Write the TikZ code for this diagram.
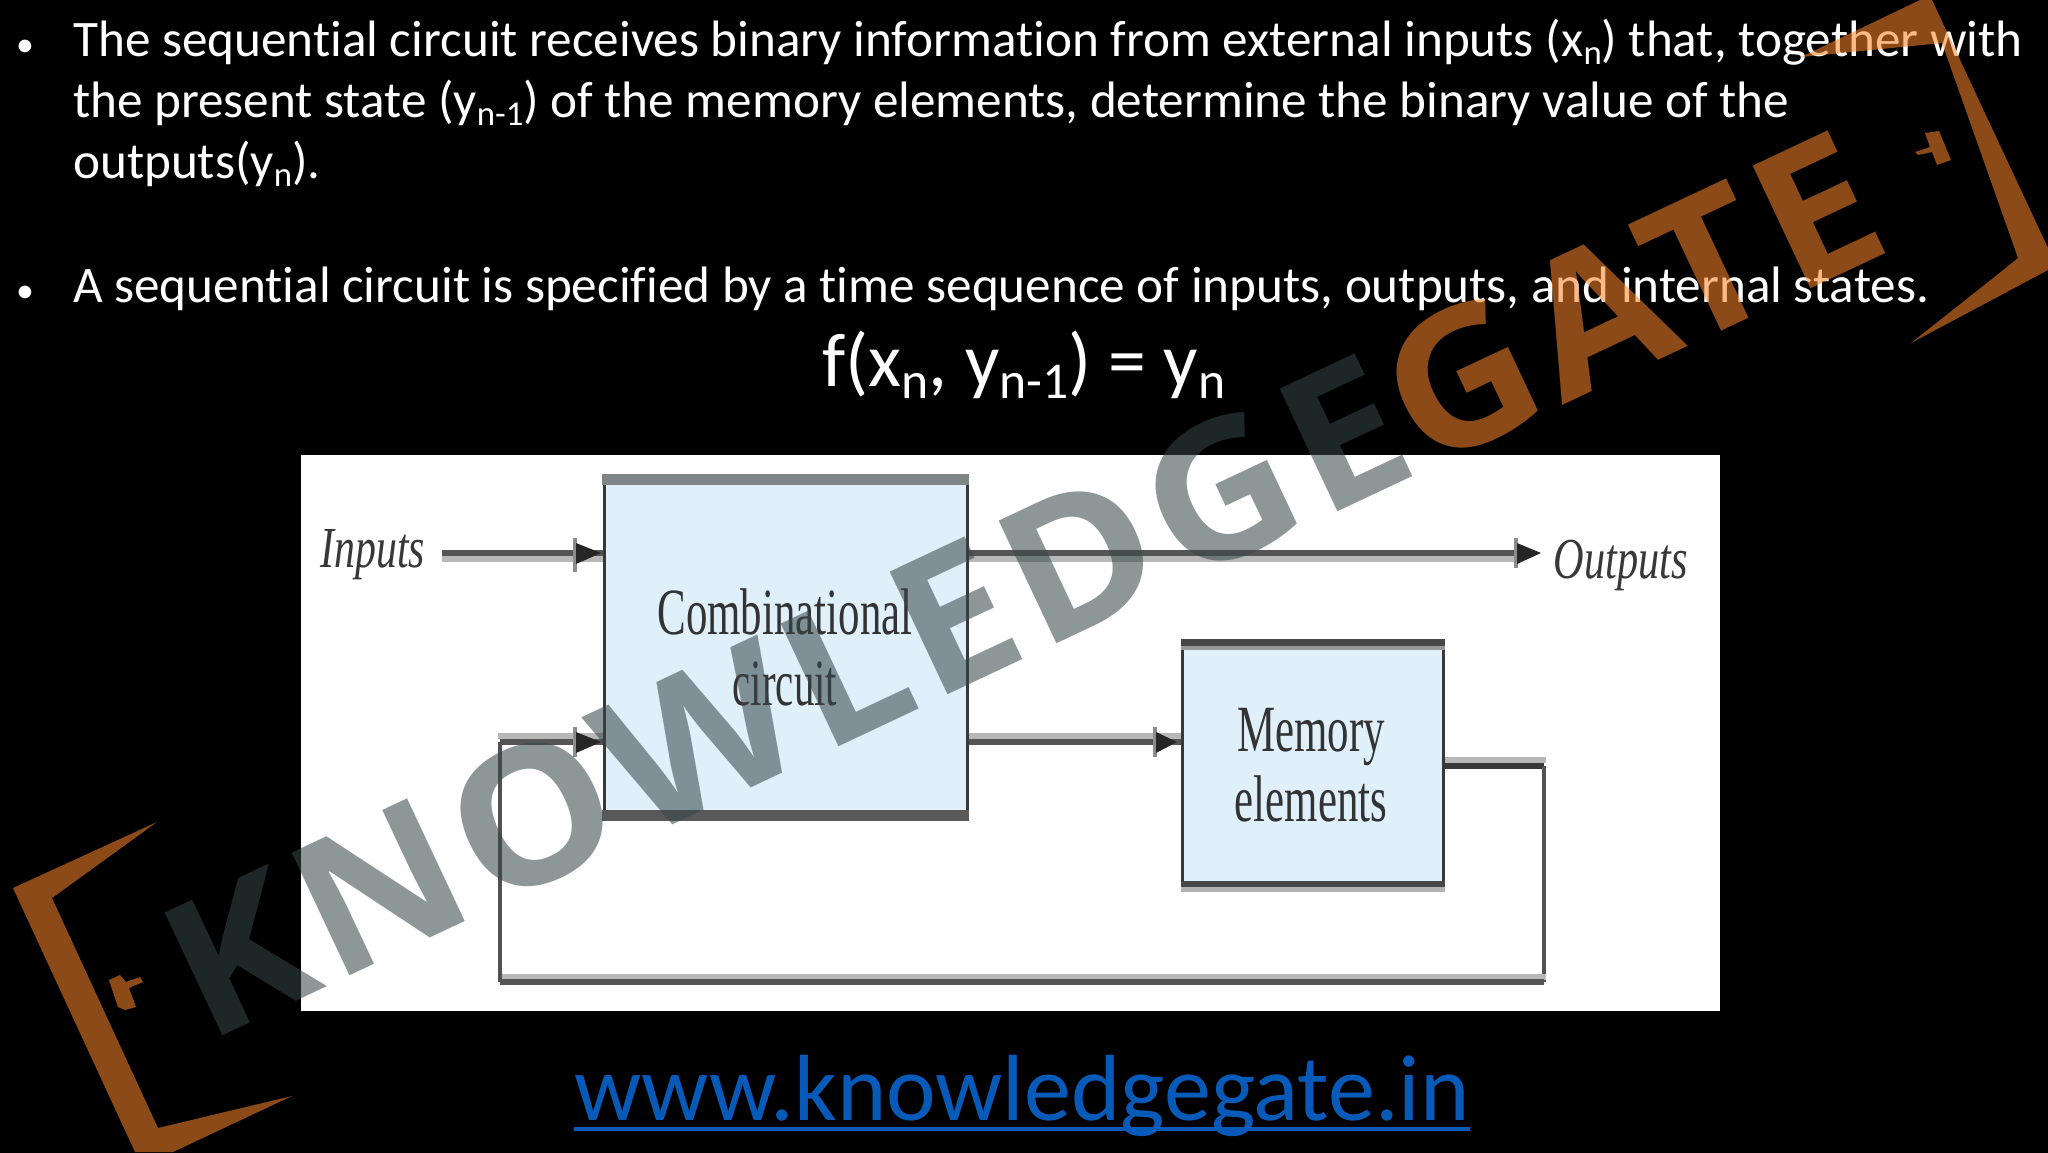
\documentclass[tikz,border=0pt]{standalone}
\usepackage{fontspec}
\setmainfont{Carlito}[Ligatures={NoCommon}]
\newfontfamily\pictfont{Liberation Serif}
\newfontfamily\wmfont{Open Sans}[FakeStretch=1.06,LetterSpace=4]
\usetikzlibrary{calc}
\definecolor{boxfill}{RGB}{223,240,251}
\definecolor{wdark}{RGB}{85,85,85}
\definecolor{wgray}{RGB}{184,184,184}
\definecolor{bandgray}{RGB}{128,133,136}
\definecolor{linkblue}{RGB}{8,90,185}
\definecolor{wmgray}{RGB}{55,70,73}
\definecolor{wmorange}{RGB}{250,132,43}
\newcommand{\subsc}[1]{\raisebox{-.17em}{\scalebox{.68}{#1}}}
\newcommand{\squeezed}[2]{\scalebox{#1}[1]{#2}}
\tikzset{
  bodyline/.style={anchor=base west,inner sep=0pt,text=white,font=\fontsize{51.2}{58}\selectfont},
  blockbox/.style={draw=black!78,line width=3pt,fill=boxfill,inner sep=0pt},
  blocktext/.style={inner sep=0pt,text=black!80,font=\pictfont\fontsize{66}{66}\selectfont},
  labeltext/.style={inner sep=0pt,text=black!78,font=\pictfont\itshape\fontsize{58}{58}\selectfont},
  wired/.style={draw=wdark,line width=6pt},
  wireg/.style={draw=wgray,line width=6pt},
  wirev/.style={draw=black!68,line width=4pt},
  tiparrow/.style={fill=black!85,draw=none},
  tipbar/.style={fill=black!45,draw=none},
  bracketpoly/.style={fill=wmorange,fill opacity=.56,draw=none},
}
\begin{document}
\begin{tikzpicture}[x=1pt,y=-1pt]
\useasboundingbox (0,0) rectangle (2048,1152);
\fill[black] (-6,-6) rectangle (2054,1158);
% text
\node[bodyline] (b1) at (16,56) {\scalebox{.7}{•}};
\node[bodyline] (l1) at (73,56) {The sequential circuit receives binary information from external inputs (x\subsc{n}) that, together with};
\node[bodyline] (l2) at (73,117) {the present state (y\subsc{n-1}) of the memory elements, determine the binary value of the};
\node[bodyline] (l3) at (73,178) {outputs(y\subsc{n}).};
\node[bodyline] (b2) at (16,302) {\scalebox{.7}{•}};
\node[bodyline] (l4) at (73,302) {A sequential circuit is specified by a time sequence of inputs, outputs, and internal states.};
\node[bodyline,anchor=base,font=\fontsize{76}{80}\selectfont] (formula) at (1024,386) {f(x\subsc{n}, y\subsc{n-1}) = y\subsc{n}};
\node[anchor=base,inner sep=0pt,text=linkblue,font=\fontsize{94}{96}\selectfont] (link) at (1022,1120) {www.knowledgegate.in};
\draw[linkblue,line width=4pt] ($(link.base west)+(0,9)$) -- ($(link.base east)+(0,9)$);
% picture panel
\fill[white] (301,455) rectangle (1720,1011);
% blocks
\node[blockbox,minimum width=363pt,minimum height=340pt] (comb) at (785.5,647) {};
\node[blockbox,minimum width=261pt,minimum height=247pt] (mem) at (1313,765) {};
\fill[bandgray] (602,474) rectangle (969,485);
\fill[black!65] (602,810) rectangle (969,821);
\fill[black!72] (1181,639) rectangle (1445,646);
\fill[black!40] (1181,646) rectangle (1445,650);
\fill[black!72] (1181,881) rectangle (1445,887);
\fill[black!30] (1181,887) rectangle (1445,892);
% labels
\node[blocktext] (c1) at (785,612) {\squeezed{.65}{Combinational}};
\node[blocktext] (c2) at (785,684) {\squeezed{.62}{circuit}};
\node[blocktext] (m1) at (1311,737) {\squeezed{.65}{Memory}};
\node[blocktext] (m2) at (1311,799) {\squeezed{.65}{elements}};
\node[labeltext] (inp) at (373,555) {\squeezed{.72}{Inputs}};
\node[labeltext] (outp) at (1621,565) {\squeezed{.73}{Outputs}};
% named connector points
\coordinate (inS) at (442,553);
\coordinate (fbTL) at (500,742);
\coordinate (fbBL) at (500,982);
\coordinate (fbBR) at (1544,982);
\coordinate (fbTR) at (1544,766);
% connectors: grey shadow then dark line
\draw[wireg] ($(inS)+(0,6)$) -- ($(comb.west |- inS)+(0,6)$);
\draw[wired] (inS) -- (comb.west |- inS);
\draw[wireg] ($(comb.east |- inS)+(0,6)$) -- ++(546,0);
\draw[wired] (comb.east |- inS) -- ++(546,0) coordinate (outE);
\draw[wireg] ($(comb.east |- fbTL)+(0,-6)$) -- ($(mem.west |- fbTL)+(0,-6)$);
\draw[wired] (comb.east |- fbTL) -- (mem.west |- fbTL);
\draw[wireg] ($(fbTL)+(-2,-6)$) -- ($(comb.west |- fbTL)+(0,-6)$);
\draw[wired] (fbTL) -- (comb.west |- fbTL);
\draw[wireg] ($(mem.east |- fbTR)+(0,-6)$) -- ($(fbTR)+(2,-6)$);
\draw[wired,draw=black!78] (mem.east |- fbTR) -- (fbTR);
\draw[wirev] (fbTR) -- (fbBR);
\draw[wireg] ($(fbBR)+(2,-5)$) -- ($(fbBL)+(-2,-5)$);
\draw[wired] (fbBR) -- (fbBL);
\draw[wirev] (fbBL) -- (fbTL);
% arrowheads
\fill[tipbar] (573,538) rectangle (577,572);
\fill[tiparrow] (576,543) -- (601,553) -- (576,564) -- cycle;
\fill[tipbar] (573,727) rectangle (577,757);
\fill[tiparrow] (576,732) -- (601,742) -- (576,753) -- cycle;
\fill[tipbar] (1153,727) rectangle (1157,757);
\fill[tiparrow] (1156,732) -- (1177,742) -- (1156,753) -- cycle;
\fill[tipbar] (1514,538) rectangle (1518,568);
\fill[tiparrow] (1517,543) -- (1541,553) -- (1517,564) -- cycle;
% watermark
\node[anchor=base west,inner sep=0pt,rotate=25.2,text opacity=.56,font=\wmfont\bfseries\fontsize{190}{190}\selectfont] (wm) at (206,1044) {\color{wmgray}KNOWLEDGE\color{wmorange}GATE};
\fill[bracketpoly] (157,822) -- (13,888) -- (135,1152) -- (173,1152) -- (292,1096) -- (158,1128) -- (52,898) -- cycle;
\fill[bracketpoly] (109,980) -- (120,975) -- (126,982) -- (140,977) -- (143,982) -- (129,988) -- (136,1007) -- (125,1010) -- (118,1007) -- cycle;
\fill[bracketpoly] (1920,0) -- (1801,57) -- (1942,43) -- (2018,258) -- (1997,275) -- (1911,343) -- (2048,270) -- (2048,248) -- (1932,0) -- cycle;
\fill[bracketpoly] (1915,152) -- (1930,147) -- (1925,133) -- (1939,131) -- (1951,160) -- (1937,165) -- (1932,152) -- (1918,155) -- cycle;
\end{tikzpicture}
\end{document}
